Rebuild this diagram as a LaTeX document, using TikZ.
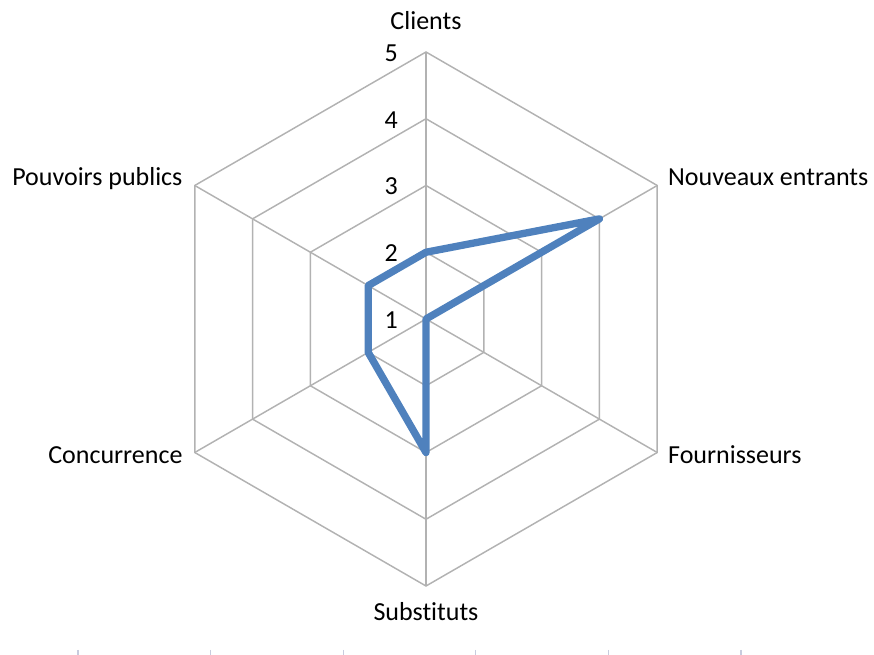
\documentclass[tikz,border=0pt]{standalone}
\usepackage{fontspec}
\setmainfont[Ligatures={NoCommon}]{Carlito}
\definecolor{seriesblue}{RGB}{79,129,189}
\definecolor{gridgray}{RGB}{178,178,178}
\definecolor{tickgray}{RGB}{200,204,222}
\tikzstyle{grid}=[draw=gridgray, line width=1.1pt]
\tikzstyle{series}=[draw=seriesblue, line width=5.5pt, line join=round]
\tikzstyle{catlabel}=[inner sep=0pt, font=\fontsize{19.5}{23}\selectfont]
\tikzstyle{vallabel}=[catlabel, anchor=east]
\tikzstyle{tickmark}=[draw=tickgray, line width=1pt]

\begin{document}
\begin{tikzpicture}[x=0.75pt, y=0.75pt]
        \useasboundingbox (-426,-336) rectangle (448,319);
        \coordinate (O) at (0,0);
        % spokes
        \foreach \a/\n in {90/cli,30/nou,-30/fou,-90/sub,-150/con,150/pou} {
            \coordinate (\n) at (\a:267);
            \draw[grid] (O) -- (\n);
        }
        % rings
        \foreach \k in {1,...,4}
            \draw[grid] (90:{\k*66.75}) \foreach \a in {30,-30,-90,-150,150} { -- (\a:{\k*66.75}) } -- cycle;
        % values
        \foreach \v in {1,...,5}
            \node[vallabel] (v\v) at (-28, {(\v-1)*66.75-1}) {\v};
        % series
        \draw[series] (90:66.75) -- (30:200.25) -- (O) -- (-90:133.5) -- (-150:66.75) -- (150:66.75) -- cycle;
        % categories
        \node[catlabel, anchor=base] (lcli) at ([yshift=16.5pt]cli) {Clients};
        \node[catlabel, anchor=base west] (lnou) at ([xshift=8pt]nou) {Nouveaux entrants};
        \node[catlabel, anchor=base west] (lfou) at ([xshift=8pt, yshift=-8.5pt]fou) {Fournisseurs};
        \node[catlabel, anchor=north] (lsub) at ([yshift=-12pt]sub) {Substituts};
        \node[catlabel, anchor=base east] (lcon) at ([xshift=-9pt, yshift=-8.5pt]con) {Concurrence};
        \node[catlabel, anchor=base east] (lpou) at ([xshift=-9pt]pou) {Pouvoirs publics};
        % ticks
        \foreach \i in {0,...,5}
            \draw[tickmark] ({-348+\i*132.6}, -331) -- ({-348+\i*132.6}, -336);
    \end{tikzpicture}
\end{document}
